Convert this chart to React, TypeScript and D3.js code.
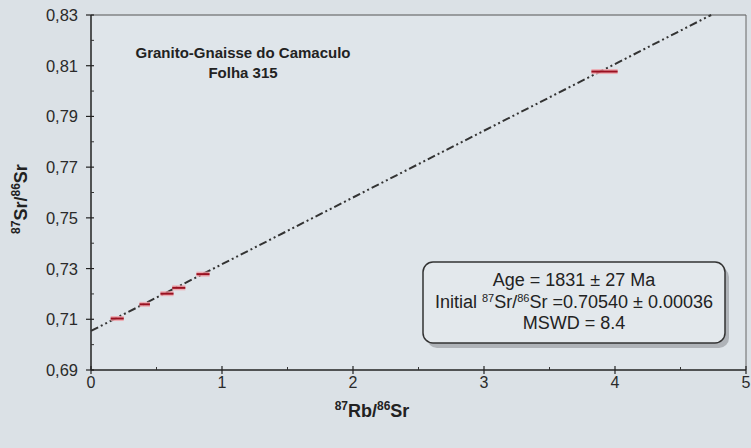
import React from "react";
import * as d3 from "d3";

const xTicks = [0, 1, 2, 3, 4, 5];
const yTicks = [0.69, 0.71, 0.73, 0.75, 0.77, 0.79, 0.81, 0.83];
const yTickLabels = ["0,69", "0,71", "0,73", "0,75", "0,77", "0,79", "0,81", "0,83"];
const pointX = [0.2, 0.41, 0.58, 0.67, 0.855, 3.92];
const pointY = [0.7103, 0.7159, 0.7201, 0.7224, 0.7278, 0.8077];
const pointErrX = [0.05, 0.04, 0.05, 0.05, 0.05, 0.1];
const lineIntercept = 0.7054;
const lineSlope = 0.02632;

export default function App() {
  const W = 751, H = 448;
  const m = { left: 91, right: 746, top: 15, bottom: 370 };
  const x = d3.scaleLinear().domain([0, 5]).range([m.left, m.right]);
  const y = d3.scaleLinear().domain([0.69, 0.83]).range([m.bottom, m.top]);
  const xEnd = (0.83 - lineIntercept) / lineSlope;
  const line = d3.line<number>().x((d) => x(d)).y((d) => y(lineIntercept + lineSlope * d));
  const minorY = d3.range(0.70, 0.83, 0.02);
  const minorX = d3.range(0.5, 5, 1);
  const font = "Liberation Sans, Arial, sans-serif";
  return (
    <svg width={W} height={H} style={{ position: "absolute", left: 0, top: 0, background: "#dbe1e6" }}>
      <rect x={0} y={0} width={W} height={H} fill="#dbe1e6" />
      <rect x={m.left} y={m.top} width={m.right - m.left} height={m.bottom - m.top} fill="#dfe5ea" />
      {/* frame */}
      <line x1={m.left} x2={m.right} y1={m.top} y2={m.top} stroke="#555" strokeWidth={1} />
      <line x1={m.right} x2={m.right} y1={m.top} y2={m.bottom} stroke="#666" strokeWidth={1} />
      <line x1={m.left} x2={m.left} y1={m.top} y2={m.bottom} stroke="#222" strokeWidth={1.5} />
      <line x1={m.left} x2={m.right} y1={m.bottom} y2={m.bottom} stroke="#222" strokeWidth={1.5} />
      {/* y ticks */}
      {yTicks.map((t, i) => (
        <g key={"y" + i}>
          <line x1={m.left - 5} x2={m.left + 3} y1={y(t)} y2={y(t)} stroke="#222" strokeWidth={1.2} />
          <text x={m.left - 13} y={y(t) + 6} textAnchor="end" fontFamily={font} fontSize={16.5} fill="#2a2a2a">
            {yTickLabels[i]}
          </text>
        </g>
      ))}
      {minorY.map((t, i) => (
        <line key={"ym" + i} x1={m.left} x2={m.left + 3} y1={y(t)} y2={y(t)} stroke="#333" strokeWidth={1} />
      ))}
      {/* x ticks */}
      {xTicks.map((t, i) => (
        <g key={"x" + i}>
          <line x1={x(t)} x2={x(t)} y1={m.bottom - 4} y2={m.bottom + 4} stroke="#222" strokeWidth={1.2} />
          <text x={x(t)} y={m.bottom + 18} textAnchor="middle" fontFamily={font} fontSize={16} fill="#2a2a2a">
            {t}
          </text>
        </g>
      ))}
      {minorX.map((t, i) => (
        <line key={"xm" + i} x1={x(t)} x2={x(t)} y1={m.bottom - 3} y2={m.bottom} stroke="#333" strokeWidth={1} />
      ))}
      {/* isochron */}
      <path d={line([0, xEnd]) || ""} fill="none" stroke="#333" strokeWidth={2} strokeDasharray="8 3 2 3 2 3" />
      {/* points */}
      {pointX.map((px, i) => {
        const x1 = x(px - pointErrX[i]);
        const x2 = x(px + pointErrX[i]);
        return (
          <g key={"p" + i}>
            <rect x={x1} y={y(pointY[i]) - 2.5} width={x2 - x1} height={5} fill="#f0a0a8" opacity={0.8} />
            <line x1={x1} x2={x2} y1={y(pointY[i])} y2={y(pointY[i])} stroke="#9a1020" strokeWidth={2} />
          </g>
        );
      })}
      {/* title */}
      <text x={243} y={58} textAnchor="middle" fontFamily={font} fontWeight="bold" fontSize={15} fill="#222">
        Granito-Gnaisse do Camaculo
      </text>
      <text x={243} y={78} textAnchor="middle" fontFamily={font} fontWeight="bold" fontSize={15} fill="#222">
        Folha 315
      </text>
      {/* info box */}
      <rect x={427} y={267} width={302} height={81} rx={10} fill="#9a9ea2" opacity={0.7} />
      <rect x={423} y={262} width={302} height={81} rx={10} fill="#e3e8ec" stroke="#333" strokeWidth={1.5} />
      <text x={574} y={286} textAnchor="middle" fontFamily={font} fontSize={18} fill="#222">
        Age = 1831 ± 27 Ma
      </text>
      <text x={574} y={308} textAnchor="middle" fontFamily={font} fontSize={18} fill="#222">
        Initial <tspan fontSize={11} dy={-6}>87</tspan>
        <tspan dy={6}>Sr/</tspan>
        <tspan fontSize={11} dy={-6}>86</tspan>
        <tspan dy={6}>Sr =0.70540 ± 0.00036</tspan>
      </text>
      <text x={574} y={329} textAnchor="middle" fontFamily={font} fontSize={18} fill="#222">
        MSWD = 8.4
      </text>
      {/* axis titles */}
      <text x={372} y={417} textAnchor="middle" fontFamily={font} fontWeight="bold" fontSize={18} fill="#222">
        <tspan fontSize={12} dy={-7}>87</tspan>
        <tspan dy={7}>Rb/</tspan>
        <tspan fontSize={12} dy={-7}>86</tspan>
        <tspan dy={7}>Sr</tspan>
      </text>
      <text transform={`translate(27,199) rotate(-90)`} textAnchor="middle" fontFamily={font} fontWeight="bold" fontSize={18} fill="#222">
        <tspan fontSize={12} dy={-7}>87</tspan>
        <tspan dy={7}>Sr/</tspan>
        <tspan fontSize={12} dy={-7}>86</tspan>
        <tspan dy={7}>Sr</tspan>
      </text>
    </svg>
  );
}
